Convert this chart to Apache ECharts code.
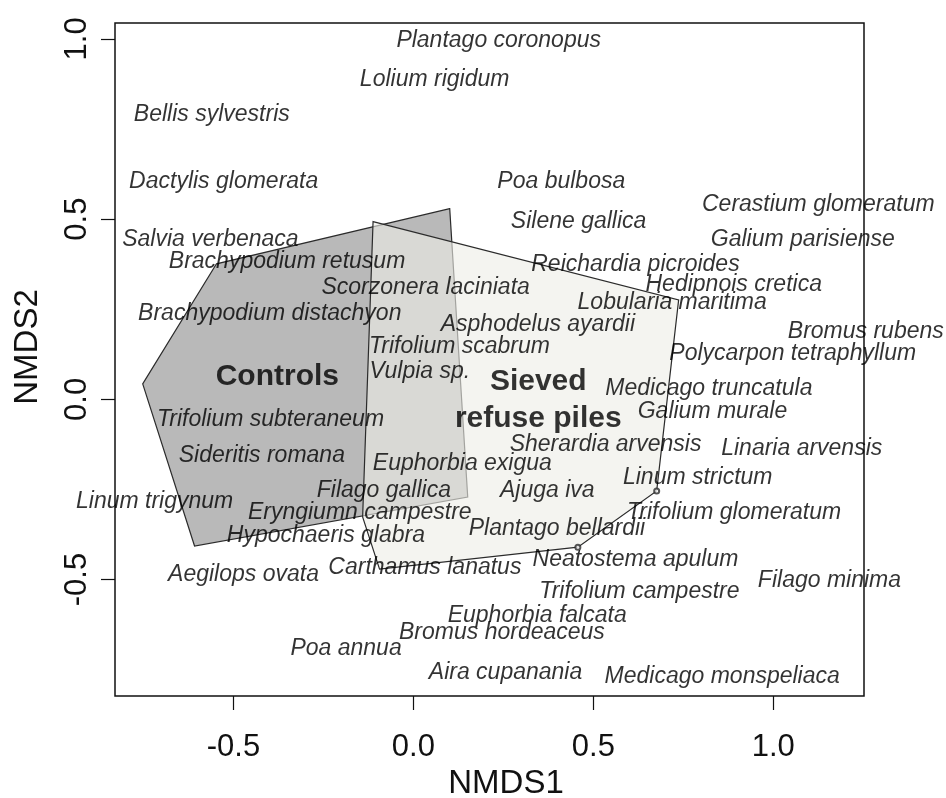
<!DOCTYPE html>
<html>
<head>
<meta charset="utf-8">
<script src="https://cdn.jsdelivr.net/npm/echarts@6/dist/echarts.min.js"></script>
<style>
  html, body { margin: 0; padding: 0; background: #fff; }
  #chart { width: 946px; height: 798px; }
</style>
</head>
<body>
<div id="chart"></div>
<script>
// species scores (NMDS1, NMDS2)
const species = [
  'Plantago coronopus', 'Lolium rigidum', 'Bellis sylvestris', 'Dactylis glomerata',
  'Poa bulbosa', 'Silene gallica', 'Cerastium glomeratum', 'Galium parisiense',
  'Salvia verbenaca', 'Brachypodium retusum', 'Reichardia picroides', 'Scorzonera laciniata',
  'Hedipnois cretica', 'Lobularia maritima', 'Brachypodium distachyon', 'Asphodelus ayardii',
  'Bromus rubens', 'Trifolium scabrum', 'Polycarpon tetraphyllum', 'Vulpia sp.',
  'Medicago truncatula', 'Galium murale', 'Trifolium subteraneum', 'Sherardia arvensis',
  'Linaria arvensis', 'Sideritis romana', 'Euphorbia exigua', 'Linum strictum',
  'Filago gallica', 'Ajuga iva', 'Linum trigynum', 'Eryngiumn campestre',
  'Trifolium glomeratum', 'Hypochaeris glabra', 'Plantago bellardii', 'Neatostema apulum',
  'Aegilops ovata', 'Carthamus lanatus', 'Trifolium campestre', 'Filago minima',
  'Euphorbia falcata', 'Bromus hordeaceus', 'Poa annua', 'Aira cupanania',
  'Medicago monspeliaca'
];
const nmds1 = [
  0.237, 0.059, -0.560, -0.527,
  0.411, 0.459, 1.125, 1.082,
  -0.564, -0.351, 0.617, 0.034,
  0.890, 0.719, -0.399, 0.346,
  1.257, 0.128, 1.054, 0.018,
  0.821, 0.831, -0.397, 0.534,
  1.079, -0.421, 0.136, 0.790,
  -0.082, 0.372, -0.719, -0.149,
  0.891, -0.243, 0.399, 0.617,
  -0.472, 0.032, 0.628, 1.156,
  0.344, 0.246, -0.187, 0.256,
  0.858
];
const nmds2 = [
  0.995, 0.887, 0.791, 0.605,
  0.603, 0.493, 0.540, 0.443,
  0.443, 0.381, 0.374, 0.309,
  0.317, 0.267, 0.239, 0.207,
  0.188, 0.146, 0.128, 0.077,
  0.031, -0.035, -0.057, -0.126,
  -0.138, -0.156, -0.177, -0.218,
  -0.253, -0.254, -0.284, -0.315,
  -0.313, -0.379, -0.360, -0.444,
  -0.487, -0.467, -0.534, -0.503,
  -0.601, -0.647, -0.692, -0.759,
  -0.770
];

// group centroid labels
const groupNames = ['Controls', 'Sieved\nrefuse piles'];
const groupX = [-0.378, 0.347];
const groupY = [0.063, -0.002];

// convex hulls of the two treatments
const controlsHullX = [0.101, -0.547, -0.752, -0.608, 0.151];
const controlsHullY = [0.529, 0.376, 0.043, -0.407, -0.271];
const sievedHullX = [-0.112, 0.737, 0.676, 0.457, -0.094, -0.141];
const sievedHullY = [0.493, 0.276, -0.254, -0.410, -0.471, -0.326];

// the two hull corners marked with a small open circle
const markedX = [0.676, 0.457];
const markedY = [-0.254, -0.410];

const tickValues = [-0.5, 0, 0.5, 1.0];

function hullSeries(xs, ys, fill, z) {
  return {
    type: 'custom',
    z: z,
    silent: true,
    data: xs.map((x, i) => [x, ys[i]]),
    renderItem: function (params, api) {
      if (params.dataIndex !== 0) return;
      const pts = xs.map((x, i) => api.coord([x, ys[i]]));
      return {
        type: 'polygon',
        shape: { points: pts },
        style: { fill: fill, stroke: '#2b2b2b', lineWidth: 1.2 }
      };
    }
  };
}

const chart = echarts.init(document.getElementById('chart'));
const font = "'Liberation Sans', Arial, sans-serif";

chart.setOption({
  backgroundColor: '#fff',
  animation: false,
  grid: {
    left: 115, right: 82, top: 23, bottom: 102,
    show: true, borderColor: '#111', borderWidth: 1.5,
    outerBoundsMode: 'none'
  },
  xAxis: {
    type: 'value',
    min: -0.829, max: 1.252,
    name: 'NMDS1', nameLocation: 'middle', nameGap: 69,
    nameTextStyle: { fontSize: 33, color: '#111', fontFamily: font, padding: [0, 0, 0, 33] },
    splitLine: { show: false },
    axisLine: { show: false, onZero: false },
    axisTick: { show: true, length: 14, customValues: tickValues, lineStyle: { color: '#111', width: 1.2 } },
    axisLabel: {
      customValues: tickValues, fontSize: 31, color: '#111', fontFamily: font, margin: 36,
      formatter: v => v.toFixed(1)
    }
  },
  yAxis: {
    type: 'value',
    min: -0.823, max: 1.044,
    name: 'NMDS2', nameLocation: 'middle', nameGap: 71,
    nameTextStyle: { fontSize: 33, color: '#111', fontFamily: font, padding: [0, 0, 0, 25] },
    splitLine: { show: false },
    axisLine: { show: false, onZero: false },
    axisTick: { show: true, length: 14, customValues: tickValues, lineStyle: { color: '#111', width: 1.2 } },
    axisLabel: {
      customValues: tickValues, fontSize: 31, color: '#111', fontFamily: font, margin: 22,
      rotate: 90, formatter: v => v.toFixed(1)
    }
  },
  series: [
    hullSeries(controlsHullX, controlsHullY, '#b9b9b9', 1),
    hullSeries(sievedHullX, sievedHullY, 'rgba(238,237,231,0.62)', 2),
    {
      type: 'scatter',
      z: 3,
      silent: true,
      symbol: 'emptyCircle',
      symbolSize: 5,
      itemStyle: { color: '#2b2b2b', borderWidth: 1 },
      data: markedX.map((x, i) => [x, markedY[i]])
    },
    {
      type: 'scatter',
      z: 4,
      clip: false,
      symbolSize: 0,
      data: species.map((n, i) => ({ name: n, value: [nmds1[i], nmds2[i]] })),
      label: {
        show: true, position: 'inside', formatter: p => p.name,
        fontSize: 23, fontStyle: 'italic', color: '#000', fontFamily: font
      }
    },
    {
      type: 'scatter',
      z: 5,
      symbolSize: 0,
      data: groupNames.map((n, i) => ({ name: n, value: [groupX[i], groupY[i]] })),
      label: {
        show: true, position: 'inside', formatter: p => p.name,
        fontSize: 30, fontWeight: 'bold', color: '#000', fontFamily: font,
        lineHeight: 37, align: 'center'
      }
    }
  ]
});
</script>
</body>
</html>
